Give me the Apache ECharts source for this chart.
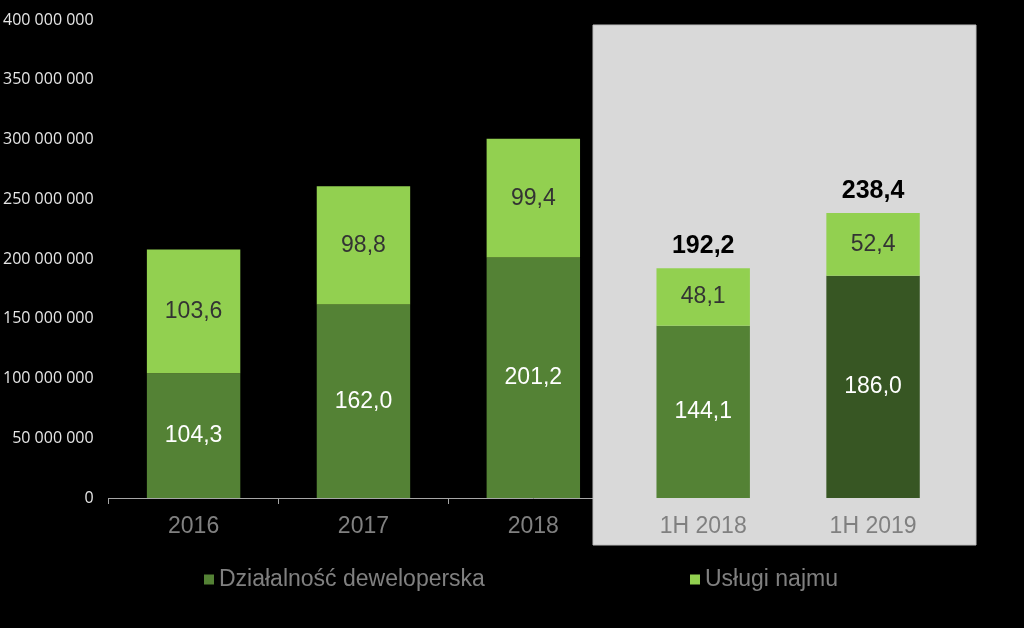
<!DOCTYPE html>
<html><head><meta charset="utf-8">
<script src="https://cdn.jsdelivr.net/npm/echarts@6/dist/echarts.min.js"></script>
<style>html,body{margin:0;padding:0;background:#000}#c{width:1024px;height:628px}</style>
</head><body><div id="c"></div>
<script>
const categories = ['2016', '2017', '2018', '1H 2018', '1H 2019'];
const devValues = [104.3, 162.0, 201.2, 144.1, 186.0];      // mln
const rentValues = [103.6, 98.8, 99.4, 48.1, 52.4];        // mln
const totals = [null, null, null, 192.2, 238.4];
const yTicks = [0, 50, 100, 150, 200, 250, 300, 350, 400];
const seriesNames = ['Działalność deweloperska', 'Usługi najmu'];

const fmt = v => v.toFixed(1).replace('.', ',');
const chart = echarts.init(document.getElementById('c'));
const font = 'Liberation Sans, Arial, sans-serif';

chart.setOption({
  backgroundColor: '#000',
  animation: false,
  graphic: [{
    type: 'rect', z: 1,
    shape: { x: 593, y: 25, width: 383, height: 520 },
    style: { fill: '#d9d9d9', stroke: '#bfbfbf', lineWidth: 1 }
  }],
  legend: [
    { data: [seriesNames[0]], left: 199, top: 563, icon: 'rect', itemWidth: 10, itemHeight: 10, itemGap: 5,
      textStyle: { color: '#808080', fontSize: 23, fontFamily: font } },
    { data: [seriesNames[1]], left: 685, top: 563, icon: 'rect', itemWidth: 10, itemHeight: 10, itemGap: 5,
      textStyle: { color: '#808080', fontSize: 23, fontFamily: font } }
  ],
  grid: { left: 108, right: 66, top: 20, bottom: 130, containLabel: false },
  xAxis: [{
    type: 'category', data: categories, z: 0,
    axisLine: { lineStyle: { color: '#a6a6a6', width: 1 } },
    axisTick: { show: true, length: 6, lineStyle: { color: '#a6a6a6' } },
    axisLabel: { show: false }
  }, {
    type: 'category', data: categories, z: 5, position: 'bottom',
    axisLine: { show: false }, axisTick: { show: false },
    axisLabel: { color: '#808080', fontSize: 23, fontFamily: font, margin: 17 }
  }],
  yAxis: {
    type: 'value', min: 0, max: 400, interval: 50,
    axisLine: { show: false }, axisTick: { show: false }, splitLine: { show: false },
    axisLabel: {
      color: '#e6e6e6', fontSize: 16, fontFamily: 'Open Sans, sans-serif', margin: 15,
      formatter: v => yTicks.includes(v) ? (v === 0 ? '0' : v + ' 000 000') : ''
    }
  },
  series: [{
    name: seriesNames[0], type: 'bar', stack: 'a', barWidth: '55%', z: 3,
    itemStyle: { color: '#548235' },
    data: devValues.map((v, i) => i === 4 ? { value: v, itemStyle: { color: '#375623' } } : v),
    label: { show: true, position: 'inside', color: '#ffffff', fontSize: 23, fontFamily: font,
      formatter: p => fmt(p.value) }
  }, {
    name: seriesNames[1], type: 'bar', stack: 'a', barWidth: '55%', z: 3,
    itemStyle: { color: '#92d050' },
    data: rentValues,
    label: { show: true, position: 'inside', color: '#333333', fontSize: 23, fontFamily: font,
      formatter: p => fmt(p.value) }
  }, {
    name: 'total', type: 'bar', stack: 'a', barWidth: '55%', z: 3,
    data: totals.map(t => t === null ? 0 : { value: 0.0001, label: { show: true } }),
    itemStyle: { color: 'transparent' },
    label: { show: false, position: 'top', distance: 10, color: '#000', fontSize: 25, fontWeight: 'bold', fontFamily: font,
      formatter: p => totals[p.dataIndex] === null ? '' : fmt(totals[p.dataIndex]) },
    tooltip: { show: false }
  }]
});
</script></body></html>
